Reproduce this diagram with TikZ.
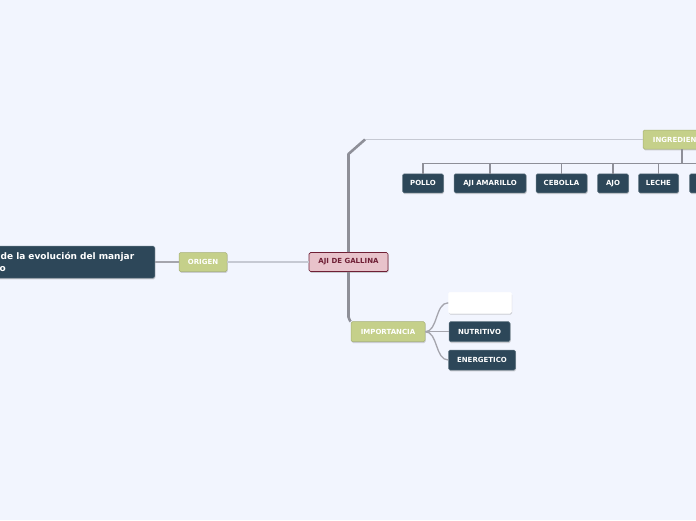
\documentclass[tikz,border=0pt]{standalone}
\usepackage{fontspec}
\setmainfont{DejaVu Sans}
\usetikzlibrary{shadows}
\definecolor{bg}{HTML}{F2F5FE}
\definecolor{darkb}{HTML}{2D4759}
\definecolor{greenb}{HTML}{C5D08A}
\definecolor{pinkb}{HTML}{E8C3CB}
\definecolor{pinkline}{HTML}{6F1F35}
\definecolor{linedark}{HTML}{8E8F98}
\definecolor{linelight}{HTML}{C6C9D3}
\tikzset{
  base/.style={rounded corners=1.5pt, inner sep=0pt, line width=0.5pt,
    font=\fontsize{7}{8}\selectfont\bfseries,
    drop shadow={shadow xshift=0.6pt, shadow yshift=-1.3pt, opacity=0.35, fill=gray}},
  darkbox/.style={base, fill=darkb, draw=darkb!75!white, text=white},
  greenbox/.style={base, fill=greenb, draw=greenb!85!black, text=white},
  pinkbox/.style={base, fill=pinkb, draw=pinkline, text=pinkline, line width=0.7pt},
  whitebox/.style={base, fill=white, draw=white},
  trunk/.style={draw=linedark, line width=2.6pt},
  bar/.style={draw=linedark, line width=1.4pt},
  thinline/.style={draw=linelight, line width=1.3pt},
  midline/.style={draw=linedark!80!white, line width=1.3pt},
}
\begin{document}
\begin{tikzpicture}[x=1pt,y=-1pt]
\fill[bg] (0,0) rectangle (696,520);
\useasboundingbox (0,0) rectangle (696,520);

% nodes
\node[darkbox, anchor=east, text width=175pt, minimum height=32pt, align=left,
  font=\fontsize{9}{11.7}\selectfont\bfseries] (topic) at (155,262)
  {\hspace*{21pt}de la evolución del manjar\\\hspace*{20pt}o};
\node[greenbox, minimum width=48pt, minimum height=19pt] (origin) at (203,262) {ORIGEN};
\node[pinkbox, minimum width=79pt, minimum height=19pt] (root) at (348.5,262) {AJI DE GALLINA};
\node[greenbox, minimum width=78pt, minimum height=19pt] (ingr) at (682,139.5) {INGREDIENTES};
\node[darkbox, minimum width=41pt, minimum height=19pt] (pollo) at (423,183.3) {POLLO};
\node[darkbox, minimum width=72pt, minimum height=19pt] (aji) at (490,183.3) {AJI AMARILLO};
\node[darkbox, minimum width=51pt, minimum height=19pt] (cebolla) at (561.5,183.3) {CEBOLLA};
\node[darkbox, minimum width=31pt, minimum height=19pt] (ajo) at (613,183.3) {AJO};
\node[darkbox, minimum width=40pt, minimum height=19pt] (leche) at (658.5,183.3) {LECHE};
\node[darkbox, minimum width=62pt, minimum height=19pt] (next) at (720.5,183.3) {};
\node[greenbox, minimum width=74pt, minimum height=20pt] (imp) at (388,331.7) {IMPORTANCIA};
\node[whitebox, minimum width=63pt, minimum height=21pt] (blank) at (480,302.8) {};
\node[darkbox, minimum width=61pt, minimum height=20pt] (nutri) at (479.5,331.7) {NUTRITIVO};
\node[darkbox, minimum width=67pt, minimum height=20pt] (ener) at (482,360) {ENERGETICO};

% coordinates
\coordinate (bendA) at (348.5,154);
\coordinate (bendB) at (365,139.5);
\coordinate (low) at (348.5,319);
\coordinate (barL) at (423,163.5);
\coordinate (barR) at (700,163.5);

% connectors
\draw[midline] (topic.east) -- (origin.west);
\draw[thinline] (origin.east) -- (root.west);
\draw[thinline] (bendB) -- (ingr.west);
\draw[trunk, line join=round] (root.north) -- (bendA) -- (bendB);
\draw[trunk, rounded corners=2pt] (root.south) -- (low) -- (imp.north west);
\draw[bar] (ingr.south) -- (ingr.south |- barL);
\draw[bar] (pollo.north) -- (barL) -- (barR);
\foreach \c in {aji,cebolla,ajo,leche}{\draw[bar] (\c.north) -- (\c.north |- barL);}
\draw[midline] (imp.east) .. controls (438,331.7) and (435,302.8) .. (blank.west);
\draw[midline] (imp.east) -- (nutri.west);
\draw[midline] (imp.east) .. controls (438,331.7) and (435,360) .. (ener.west);
\end{tikzpicture}
\end{document}
